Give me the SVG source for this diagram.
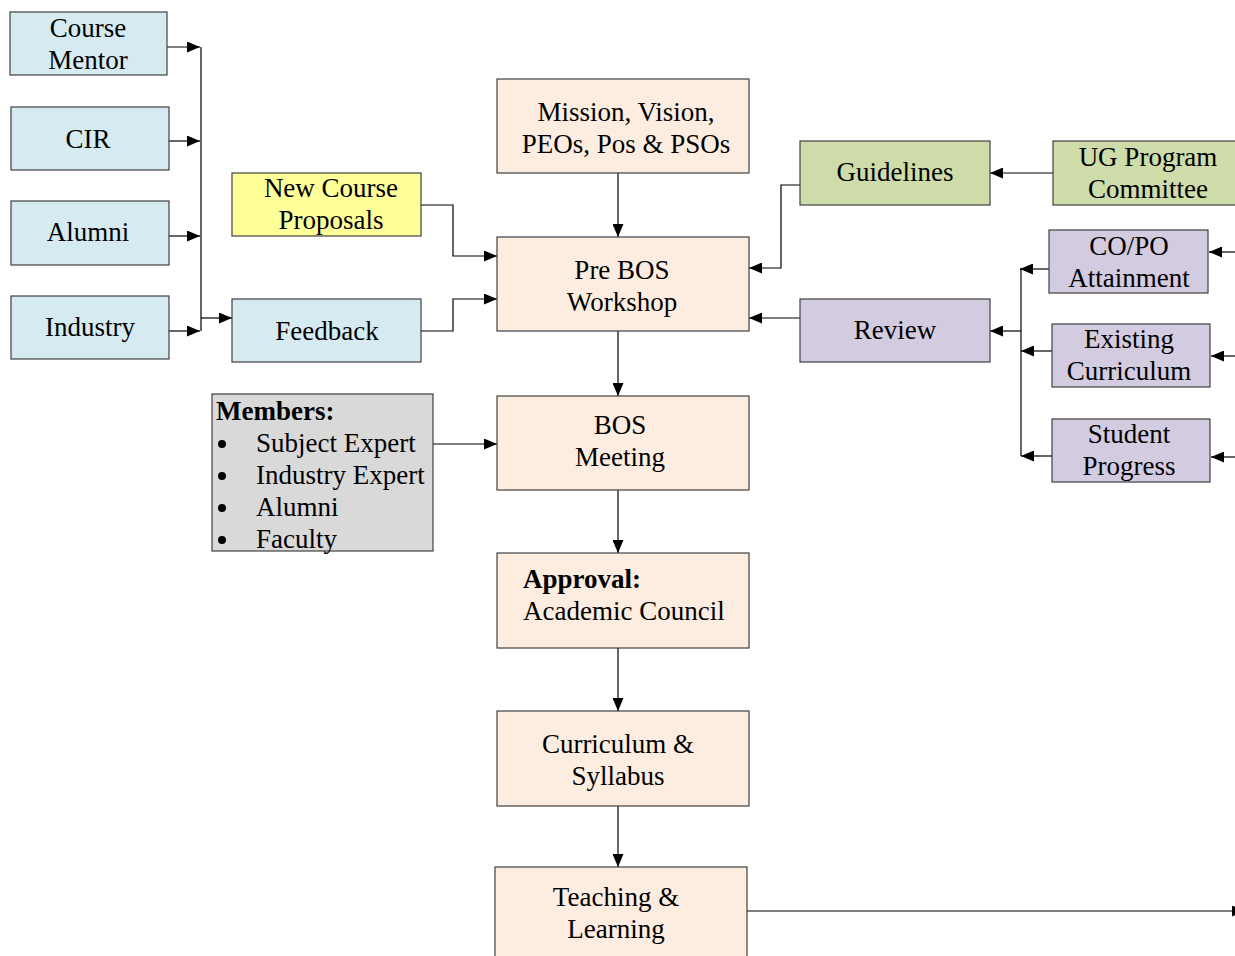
<svg xmlns="http://www.w3.org/2000/svg" width="1235" height="956" viewBox="0 0 1235 956">
  <style>
    .box { stroke: #404040; stroke-width: 1.2; }
    .blue { fill: #d6ebf1; }
    .peach { fill: #fdede1; }
    .green { fill: #cedcaa; }
    .purple { fill: #d3cbe0; }
    .yellow { fill: #ffff99; }
    .gray { fill: #d9d9d9; }
    text { font-family: "Liberation Serif", "Times New Roman", serif; font-size: 27px; fill: #000; }
    .c { text-anchor: middle; }
    .b { font-weight: bold; }
    .wire { fill: none; stroke: #000; stroke-width: 1.2; }
  </style>
  <defs>
    <marker id="arrow" markerUnits="userSpaceOnUse" markerWidth="13" markerHeight="11" refX="13" refY="5.5" orient="auto">
      <path d="M0,0 L13,5.5 L0,11 Z" fill="#000"/>
    </marker>
  </defs>

  <!-- connectors -->
  <g id="connectors">
    <path class="wire" d="M167,47 H200" marker-end="url(#arrow)"/>
    <path class="wire" d="M169,141 H200" marker-end="url(#arrow)"/>
    <path class="wire" d="M169,236 H200" marker-end="url(#arrow)"/>
    <path class="wire" d="M169,331 H200" marker-end="url(#arrow)"/>
    <path class="wire" d="M201,47 V331"/>
    <path class="wire" d="M201,318 H232" marker-end="url(#arrow)"/>
    <path class="wire" d="M421,205 H453 V256 H497" marker-end="url(#arrow)"/>
    <path class="wire" d="M421,331 H453 V299 H497" marker-end="url(#arrow)"/>
    <path class="wire" d="M618,173 V237" marker-end="url(#arrow)"/>
    <path class="wire" d="M618,331 V396" marker-end="url(#arrow)"/>
    <path class="wire" d="M433,444 H497" marker-end="url(#arrow)"/>
    <path class="wire" d="M618,490 V553" marker-end="url(#arrow)"/>
    <path class="wire" d="M618,648 V711" marker-end="url(#arrow)"/>
    <path class="wire" d="M618,806 V867" marker-end="url(#arrow)"/>
    <path class="wire" d="M747,911 H1245" marker-end="url(#arrow)"/>
    <path class="wire" d="M1053,173 H990" marker-end="url(#arrow)"/>
    <path class="wire" d="M800,185 H781 V268 H749" marker-end="url(#arrow)"/>
    <path class="wire" d="M800,318 H749" marker-end="url(#arrow)"/>
    <path class="wire" d="M1021,331 H990" marker-end="url(#arrow)"/>
    <path class="wire" d="M1021,268 V456"/>
    <path class="wire" d="M1049,269 H1020" marker-end="url(#arrow)"/>
    <path class="wire" d="M1052,351 H1021" marker-end="url(#arrow)"/>
    <path class="wire" d="M1052,456 H1021" marker-end="url(#arrow)"/>
    <path class="wire" d="M1236,252 H1209" marker-end="url(#arrow)"/>
    <path class="wire" d="M1236,356 H1211" marker-end="url(#arrow)"/>
    <path class="wire" d="M1236,457 H1211" marker-end="url(#arrow)"/>
  </g>

  <!-- input sources -->
  <g id="course-mentor">
    <rect class="box blue" x="10" y="12" width="157" height="63"/>
    <text class="c" x="88" y="37">Course</text>
    <text class="c" x="88" y="69">Mentor</text>
  </g>
  <g id="cir">
    <rect class="box blue" x="11" y="107" width="158" height="63"/>
    <text class="c" x="88" y="148">CIR</text>
  </g>
  <g id="alumni">
    <rect class="box blue" x="11" y="201" width="158" height="64"/>
    <text class="c" x="88" y="241">Alumni</text>
  </g>
  <g id="industry">
    <rect class="box blue" x="11" y="296" width="158" height="63"/>
    <text class="c" x="90" y="336">Industry</text>
  </g>
  <g id="new-course-proposals">
    <rect class="box yellow" x="232" y="173" width="189" height="63"/>
    <text class="c" x="331" y="197">New Course</text>
    <text class="c" x="331" y="229">Proposals</text>
  </g>
  <g id="feedback">
    <rect class="box blue" x="232" y="299" width="189" height="63"/>
    <text class="c" x="327" y="340">Feedback</text>
  </g>
  <g id="members">
    <rect class="box gray" x="212" y="394" width="221" height="157"/>
    <text class="b" x="216" y="420">Members:</text>
    <circle cx="222" cy="444" r="4" fill="#000"/>
    <text x="256" y="452">Subject Expert</text>
    <circle cx="222" cy="476" r="4" fill="#000"/>
    <text x="256" y="484">Industry Expert</text>
    <circle cx="222" cy="508" r="4" fill="#000"/>
    <text x="256" y="516">Alumni</text>
    <circle cx="222" cy="540" r="4" fill="#000"/>
    <text x="256" y="548">Faculty</text>
  </g>

  <!-- main process column -->
  <g id="mission">
    <rect class="box peach" x="497" y="79" width="252" height="94"/>
    <text class="c" x="626" y="121">Mission, Vision,</text>
    <text class="c" x="626" y="153">PEOs, Pos &amp; PSOs</text>
  </g>
  <g id="pre-bos">
    <rect class="box peach" x="497" y="237" width="252" height="94"/>
    <text class="c" x="622" y="279">Pre BOS</text>
    <text class="c" x="622" y="311">Workshop</text>
  </g>
  <g id="bos-meeting">
    <rect class="box peach" x="497" y="396" width="252" height="94"/>
    <text class="c" x="620" y="434">BOS</text>
    <text class="c" x="620" y="466">Meeting</text>
  </g>
  <g id="approval">
    <rect class="box peach" x="497" y="553" width="252" height="95"/>
    <text class="b" x="523" y="588">Approval:</text>
    <text x="523" y="620">Academic Council</text>
  </g>
  <g id="curriculum-syllabus">
    <rect class="box peach" x="497" y="711" width="252" height="95"/>
    <text class="c" x="618" y="753">Curriculum &amp;</text>
    <text class="c" x="618" y="785">Syllabus</text>
  </g>
  <g id="teaching-learning">
    <rect class="box peach" x="495" y="867" width="252" height="100"/>
    <text class="c" x="616" y="906">Teaching &amp;</text>
    <text class="c" x="616" y="938">Learning</text>
  </g>

  <!-- guidance and review side -->
  <g id="guidelines">
    <rect class="box green" x="800" y="141" width="190" height="64"/>
    <text class="c" x="895" y="181">Guidelines</text>
  </g>
  <g id="ug-program-committee">
    <rect class="box green" x="1053" y="141" width="190" height="64"/>
    <text class="c" x="1148" y="166">UG Program</text>
    <text class="c" x="1148" y="198">Committee</text>
  </g>
  <g id="review">
    <rect class="box purple" x="800" y="299" width="190" height="63"/>
    <text class="c" x="895" y="339">Review</text>
  </g>
  <g id="co-po-attainment">
    <rect class="box purple" x="1049" y="230" width="159" height="63"/>
    <text class="c" x="1129" y="255">CO/PO</text>
    <text class="c" x="1129" y="287">Attainment</text>
  </g>
  <g id="existing-curriculum">
    <rect class="box purple" x="1052" y="324" width="158" height="63"/>
    <text class="c" x="1129" y="348">Existing</text>
    <text class="c" x="1129" y="380">Curriculum</text>
  </g>
  <g id="student-progress">
    <rect class="box purple" x="1052" y="419" width="158" height="63"/>
    <text class="c" x="1129" y="443">Student</text>
    <text class="c" x="1129" y="475">Progress</text>
  </g>
</svg>
